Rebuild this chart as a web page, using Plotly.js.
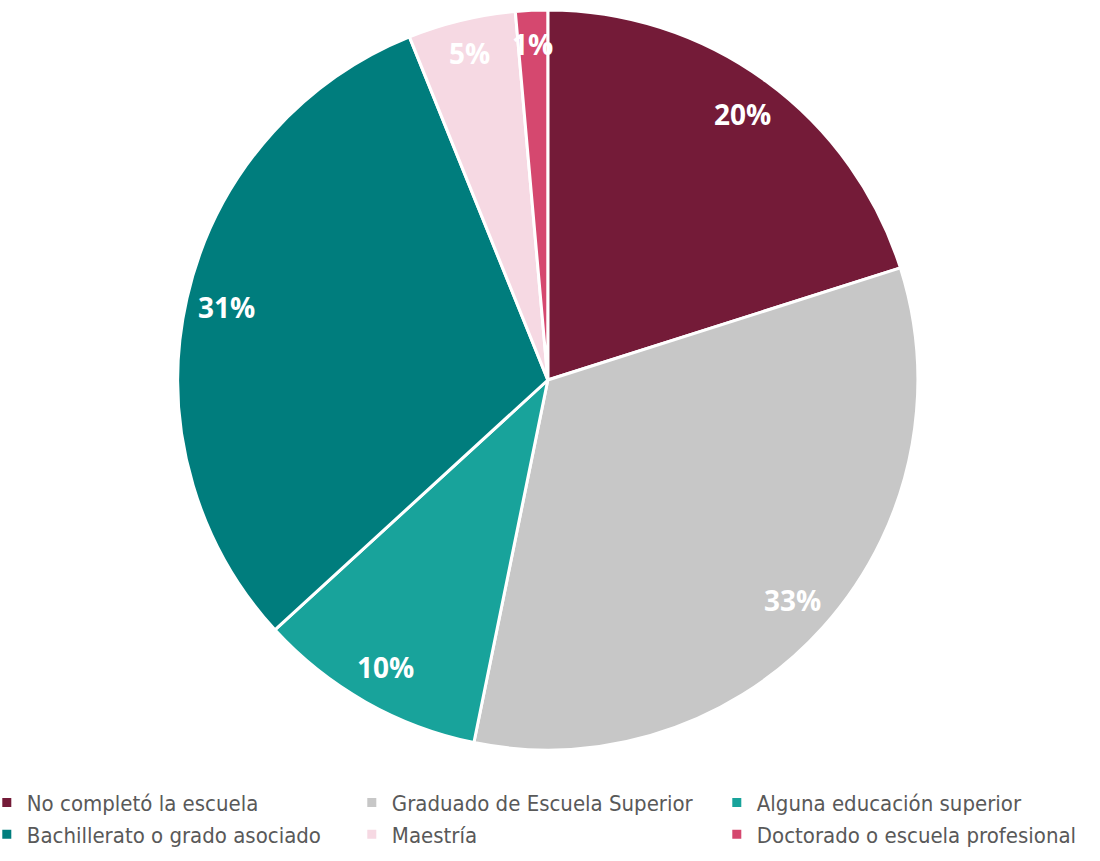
<!DOCTYPE html>
<html>
<head>
<meta charset="utf-8">
<script src="https://cdn.plot.ly/plotly-3.0.1.min.js"></script>
<style>
  html, body { margin: 0; padding: 0; background: #ffffff; }
  #chart { width: 1100px; height: 861px; }
</style>
</head>
<body>
<div id="chart"></div>
<script>
// Nivel educativo: share of respondents per category
const categories = [
  'No completó la escuela',
  'Graduado de Escuela Superior',
  'Alguna educación superior',
  'Bachillerato o grado asociado',
  'Maestría',
  'Doctorado o escuela profesional'
];
const shares = [20.1, 33.1, 10.0, 30.7, 4.7, 1.4];
const sliceColors = ['#741B38', '#C7C7C7', '#18A39B', '#007D7D', '#F6D9E3', '#D5486F'];

// Pie geometry (paper coordinates of the plot area)
const W = 1100, H = 861;
const margin = { l: 0, r: 0, t: 10, b: 111 };
const domainX = [0, 0.996];
const plotW = W - margin.l - margin.r;
const plotH = H - margin.t - margin.b;
const radiusPx = Math.min(plotW * (domainX[1] - domainX[0]), plotH) / 2;
const cx = (domainX[0] + domainX[1]) / 2;
const cy = 0.5;

// Percent labels sit near the rim of each slice, on the slice's middle angle
const total = shares.reduce((a, b) => a + b, 0);
let cum = 0;
const labelAnnotations = shares.map((v) => {
  const mid = (cum + v / 2) / total * 2 * Math.PI; // clockwise from 12 o'clock
  cum += v;
  const frac = v / total < 0.06 ? 0.91 : 0.89;
  const r = radiusPx * frac;
  return {
    xref: 'paper', yref: 'paper',
    x: cx + (r * Math.sin(mid)) / plotW,
    y: cy + (r * Math.cos(mid)) / plotH,
    xanchor: 'center', yanchor: 'middle',
    text: Math.round(v / total * 100) + '%',
    showarrow: false,
    font: { family: '"Open Sans", Lato, sans-serif', size: 28, color: '#ffffff', weight: 700 }
  };
});

const trace = {
  type: 'pie',
  labels: categories,
  values: shares,
  sort: false,
  direction: 'clockwise',
  rotation: 0,
  marker: { colors: sliceColors, line: { color: '#ffffff', width: 3 } },
  textinfo: 'none',
  hoverinfo: 'label+percent',
  domain: { x: domainX, y: [0, 1] }
};

const layout = {
  width: W,
  height: H,
  margin: Object.assign({ autoexpand: false }, margin),
  paper_bgcolor: '#ffffff',
  showlegend: true,
  annotations: labelAnnotations,
  legend: {
    orientation: 'h',
    x: -0.012,
    xanchor: 'left',
    y: -0.043,
    yanchor: 'top',
    entrywidth: 320,
    entrywidthmode: 'pixels',
    traceorder: 'normal',
    font: { family: '"DejaVu Sans Condensed", sans-serif', size: 22, color: '#595959' }
  }
};

Plotly.newPlot('chart', [trace], layout, { displayModeBar: false, staticPlot: true });
</script>
</body>
</html>
